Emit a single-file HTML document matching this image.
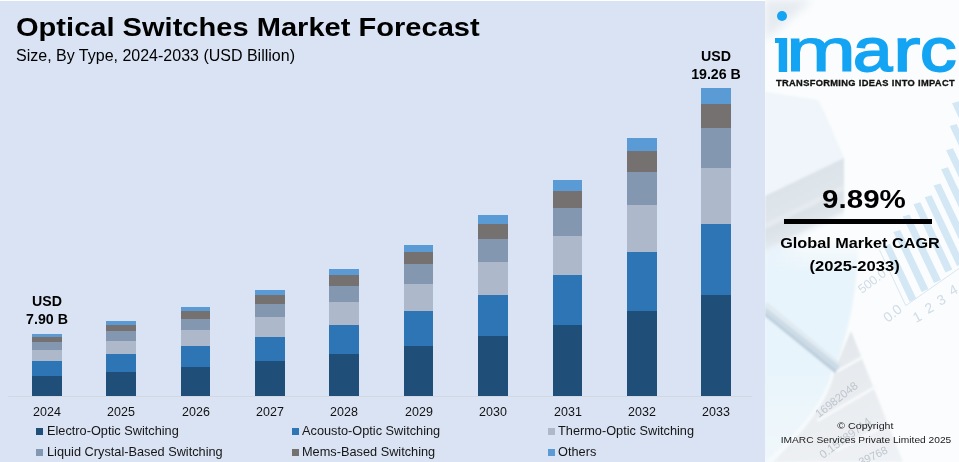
<!DOCTYPE html>
<html lang="en"><head><meta charset="utf-8"><title>Optical Switches Market Forecast</title>
<style>
html,body{margin:0;padding:0}
body{width:959px;height:462px;overflow:hidden;position:relative;background:#fff;font-family:"Liberation Sans",sans-serif;color:#000}
#left{position:absolute;left:0;top:1px;width:765px;height:461px;background:#dae3f3}
#right{position:absolute;left:765px;top:0;width:194px;height:462px;background:#f3f7fa;overflow:hidden}
.abs{position:absolute;white-space:nowrap}
.s{position:absolute}
.yr{position:absolute;top:403.5px;width:60px;text-align:center;font-size:13px;line-height:16px;color:#111;transform:scaleX(0.96)}
.lg{position:absolute;font-size:12.1px;line-height:16px;white-space:nowrap;color:#151515;transform:scaleX(1.054);transform-origin:0 0}
#logo span{position:absolute;top:0;transform-origin:0 0;display:block}
.mk{position:absolute;width:6.7px;height:6.7px}
h1{margin:0;position:absolute;left:16px;top:11px;font-size:26.5px;line-height:32px;font-weight:bold;white-space:nowrap;color:#000;transform:scaleX(1.097);transform-origin:0 0}
</style></head><body>
<div id="left"></div>
<div id="right">
<svg id="bg" width="194" height="462" viewBox="765 0 194 462" style="position:absolute;left:0;top:0">
<defs>
<filter id="b0" x="-20%" y="-20%" width="140%" height="140%"><feGaussianBlur stdDeviation="0.5"/></filter>
<filter id="b1" x="-20%" y="-20%" width="140%" height="140%"><feGaussianBlur stdDeviation="1.2"/></filter>
<filter id="b3" x="-20%" y="-20%" width="140%" height="140%"><feGaussianBlur stdDeviation="4"/></filter>
<filter id="b8" x="-30%" y="-30%" width="160%" height="160%"><feGaussianBlur stdDeviation="10"/></filter>
<linearGradient id="lt" x1="0" x2="1" y1="0" y2="0"><stop offset="0" stop-color="#e3effa"/><stop offset="1" stop-color="#e3effa" stop-opacity="0"/></linearGradient>
<linearGradient id="fade" gradientUnits="userSpaceOnUse" x1="800" y1="179" x2="824" y2="228"><stop offset="0" stop-color="#dce3e9"/><stop offset="0.42" stop-color="#dfe5eb"/><stop offset="0.5" stop-color="#e7ecf1"/><stop offset="0.58" stop-color="#dae1e7"/><stop offset="0.85" stop-color="#e1e7ed"/><stop offset="1" stop-color="#f0f5f9" stop-opacity="0"/></linearGradient>
<linearGradient id="lb" gradientUnits="userSpaceOnUse" x1="0" x2="0" y1="240" y2="462"><stop offset="0" stop-color="#e8f4fb" stop-opacity="0"/><stop offset="0.14" stop-color="#e8f4fb"/><stop offset="0.6" stop-color="#e8f4fb"/><stop offset="1" stop-color="#f1f8fc"/></linearGradient>
<linearGradient id="pg" gradientUnits="userSpaceOnUse" x1="850" x2="880" y1="331" y2="462"><stop offset="0" stop-color="#e3e6ea"/><stop offset="0.5" stop-color="#e9ecf0"/><stop offset="1" stop-color="#eff2f5"/></linearGradient>
</defs>
<rect x="765" y="0" width="194" height="462" fill="#fafcfd"/>
<polygon points="765,0 812,0 765,40" fill="#e6ebf1" filter="url(#b3)"/>
<rect x="765" y="225" width="40" height="237" fill="url(#lt)" filter="url(#b3)"/>
<!-- box -->
<g filter="url(#b1)">
<polygon points="765,92 818,100 824,112 844,158 765,197" fill="#eff5fa"/>
<polygon points="765,196 844,158 844,218 765,262" fill="url(#fade)"/>
</g>
<!-- lower-left blue area -->
<path d="M765,240 L858,240 C858,290 848,335 835,368 C828,400 805,432 775,462 L765,462Z" fill="url(#lb)" filter="url(#b1)"/>
<!-- gray paper -->
<g filter="url(#b1)">
<path d="M835,369 L851,331 L903,462 L773,462 C805,430 830,400 835,369Z" fill="url(#pg)"/><g stroke="#f7f9fb" stroke-width="3" fill="none"><path d="M836,372 L862,357.5"/><path d="M817,421 L876,386.5"/><path d="M836,451 L890,423"/></g>
<path d="M835,369 C830,400 805,430 773,462 L766,462 C800,430 826,400 832,369Z" fill="#f6fafc"/>
</g>
<!-- pen -->
<g filter="url(#b1)">
<polygon points="765,304 768,303 841,364 835,373 765,316" fill="#ccdbe6"/><polygon points="765,304 768,303 841,364 839.5,366 765,307" fill="#e0eaf1"/><polygon points="765,313 836.5,370.5 835,373 765,316" fill="#bccddb"/>
</g>
<!-- bars -->
<g fill="#d3e8f4" filter="url(#b0)">
<polygon points="883.4,246 890.2,244 916.4,298.7 909.6,301.7"/>
<polygon points="893.4,232 900.2,230 928.4,288.9 921.6,291.9"/>
<polygon points="902.7,216.4 909.5,214.4 940.9,280.1 934.1,283.1"/>
<polygon points="913.5,204.2 920.3,202.2 952.3,269.4 945.5,272.4"/>
<polygon points="924.7,197.3 931.5,195.3 963.8,263.0 957.0,266"/>
<polygon points="933.6,185.4 940.4,183.4 968.4,242.0 961.6,245"/>
<polygon points="941.1,169.3 947.9,167.3 969.3,212.0 962.5,215"/>
<polygon points="946.1,150.2 952.9,148.2 969.2,182.0 962.5,185"/>
<polygon points="949.7,126 956.5,124 967.8,147.0 961.0,150"/>
<polygon points="952.0,103.2 958.8,101.2 969.0,122.0 962.2,125"/>
</g>
<g stroke="#d9e6ef" stroke-width="1" fill="none" filter="url(#b0)"><path d="M879.5,250 L905.8,305.6 L959,268.5"/></g>
<g font-family="Liberation Sans, sans-serif" fill="#d0dce7" filter="url(#b0)">
<text x="862" y="294" font-size="12.5" transform="rotate(-37 862 294)">500.0</text>
<text x="888" y="323" font-size="14" transform="rotate(-39 888 323)">0.0</text>
<text x="916" y="323" font-size="14" transform="rotate(-28 916 323)">1</text>
<text x="928" y="314" font-size="14" transform="rotate(-28 928 314)">2</text>
<text x="940" y="306" font-size="14" transform="rotate(-28 940 306)">3</text>
<text x="952" y="296" font-size="14" transform="rotate(-28 952 296)">4</text>
</g>
<g font-family="Liberation Sans, sans-serif" fill="#bfc6ce" filter="url(#b0)">
<text x="819" y="418" font-size="11.3" transform="rotate(-38 819 418)">16982048</text>
<text x="823" y="459" font-size="11.5" transform="rotate(-36 823 459)">0.15789714</text>
<text x="861" y="466" font-size="11" transform="rotate(-26 861 466)">39768</text>
</g>
</svg>
</div>
<h1 id="title">Optical Switches Market Forecast</h1>
<div class="abs" id="sub" style="left:16px;top:47px;font-size:16px;line-height:18px">Size, By Type, 2024-2033 (USD Billion)</div>
<div id="axis" class="s" style="left:8px;top:396px;width:744px;height:1px;background:#d2d8e1"></div>
<div class="s" style="left:32px;top:334px;width:30px;height:3px;background:#5b9bd5"></div>
<div class="s" style="left:32px;top:337px;width:30px;height:5px;background:#767171"></div>
<div class="s" style="left:32px;top:342px;width:30px;height:8px;background:#8497b0"></div>
<div class="s" style="left:32px;top:350px;width:30px;height:11px;background:#adb9ca"></div>
<div class="s" style="left:32px;top:361px;width:30px;height:15px;background:#2e75b6"></div>
<div class="s" style="left:32px;top:376px;width:30px;height:20px;background:#1f4e79"></div>
<div class="s" style="left:106px;top:321px;width:30px;height:4px;background:#5b9bd5"></div>
<div class="s" style="left:106px;top:325px;width:30px;height:6px;background:#767171"></div>
<div class="s" style="left:106px;top:331px;width:30px;height:10px;background:#8497b0"></div>
<div class="s" style="left:106px;top:341px;width:30px;height:13px;background:#adb9ca"></div>
<div class="s" style="left:106px;top:354px;width:30px;height:18px;background:#2e75b6"></div>
<div class="s" style="left:106px;top:372px;width:30px;height:24px;background:#1f4e79"></div>
<div class="s" style="left:181px;top:307px;width:29px;height:4px;background:#5b9bd5"></div>
<div class="s" style="left:181px;top:311px;width:29px;height:8px;background:#767171"></div>
<div class="s" style="left:181px;top:319px;width:29px;height:11px;background:#8497b0"></div>
<div class="s" style="left:181px;top:330px;width:29px;height:16px;background:#adb9ca"></div>
<div class="s" style="left:181px;top:346px;width:29px;height:21px;background:#2e75b6"></div>
<div class="s" style="left:181px;top:367px;width:29px;height:29px;background:#1f4e79"></div>
<div class="s" style="left:255px;top:290px;width:30px;height:5px;background:#5b9bd5"></div>
<div class="s" style="left:255px;top:295px;width:30px;height:9px;background:#767171"></div>
<div class="s" style="left:255px;top:304px;width:30px;height:13px;background:#8497b0"></div>
<div class="s" style="left:255px;top:317px;width:30px;height:20px;background:#adb9ca"></div>
<div class="s" style="left:255px;top:337px;width:30px;height:24px;background:#2e75b6"></div>
<div class="s" style="left:255px;top:361px;width:30px;height:35px;background:#1f4e79"></div>
<div class="s" style="left:329px;top:269px;width:30px;height:6px;background:#5b9bd5"></div>
<div class="s" style="left:329px;top:275px;width:30px;height:11px;background:#767171"></div>
<div class="s" style="left:329px;top:286px;width:30px;height:16px;background:#8497b0"></div>
<div class="s" style="left:329px;top:302px;width:30px;height:23px;background:#adb9ca"></div>
<div class="s" style="left:329px;top:325px;width:30px;height:29px;background:#2e75b6"></div>
<div class="s" style="left:329px;top:354px;width:30px;height:42px;background:#1f4e79"></div>
<div class="s" style="left:404px;top:245px;width:29px;height:7px;background:#5b9bd5"></div>
<div class="s" style="left:404px;top:252px;width:29px;height:12px;background:#767171"></div>
<div class="s" style="left:404px;top:264px;width:29px;height:20px;background:#8497b0"></div>
<div class="s" style="left:404px;top:284px;width:29px;height:27px;background:#adb9ca"></div>
<div class="s" style="left:404px;top:311px;width:29px;height:35px;background:#2e75b6"></div>
<div class="s" style="left:404px;top:346px;width:29px;height:50px;background:#1f4e79"></div>
<div class="s" style="left:478px;top:215px;width:30px;height:9px;background:#5b9bd5"></div>
<div class="s" style="left:478px;top:224px;width:30px;height:15px;background:#767171"></div>
<div class="s" style="left:478px;top:239px;width:30px;height:23px;background:#8497b0"></div>
<div class="s" style="left:478px;top:262px;width:30px;height:33px;background:#adb9ca"></div>
<div class="s" style="left:478px;top:295px;width:30px;height:41px;background:#2e75b6"></div>
<div class="s" style="left:478px;top:336px;width:30px;height:60px;background:#1f4e79"></div>
<div class="s" style="left:553px;top:180px;width:29px;height:11px;background:#5b9bd5"></div>
<div class="s" style="left:553px;top:191px;width:29px;height:17px;background:#767171"></div>
<div class="s" style="left:553px;top:208px;width:29px;height:28px;background:#8497b0"></div>
<div class="s" style="left:553px;top:236px;width:29px;height:39px;background:#adb9ca"></div>
<div class="s" style="left:553px;top:275px;width:29px;height:50px;background:#2e75b6"></div>
<div class="s" style="left:553px;top:325px;width:29px;height:71px;background:#1f4e79"></div>
<div class="s" style="left:627px;top:138px;width:30px;height:13px;background:#5b9bd5"></div>
<div class="s" style="left:627px;top:151px;width:30px;height:21px;background:#767171"></div>
<div class="s" style="left:627px;top:172px;width:30px;height:33px;background:#8497b0"></div>
<div class="s" style="left:627px;top:205px;width:30px;height:47px;background:#adb9ca"></div>
<div class="s" style="left:627px;top:252px;width:30px;height:59px;background:#2e75b6"></div>
<div class="s" style="left:627px;top:311px;width:30px;height:85px;background:#1f4e79"></div>
<div class="s" style="left:701px;top:88px;width:30px;height:16px;background:#5b9bd5"></div>
<div class="s" style="left:701px;top:104px;width:30px;height:24px;background:#767171"></div>
<div class="s" style="left:701px;top:128px;width:30px;height:40px;background:#8497b0"></div>
<div class="s" style="left:701px;top:168px;width:30px;height:56px;background:#adb9ca"></div>
<div class="s" style="left:701px;top:224px;width:30px;height:71px;background:#2e75b6"></div>
<div class="s" style="left:701px;top:295px;width:30px;height:101px;background:#1f4e79"></div>
<div class="yr" style="left:17.0px">2024</div>
<div class="yr" style="left:91.0px">2025</div>
<div class="yr" style="left:165.5px">2026</div>
<div class="yr" style="left:240.0px">2027</div>
<div class="yr" style="left:314.0px">2028</div>
<div class="yr" style="left:388.5px">2029</div>
<div class="yr" style="left:463.0px">2030</div>
<div class="yr" style="left:537.5px">2031</div>
<div class="yr" style="left:612.0px">2032</div>
<div class="yr" style="left:686.0px">2033</div>
<div class="abs b" id="l1" style="left:17px;top:292px;width:60px;text-align:center;font-weight:bold;font-size:14.2px;line-height:18px">USD<br>7.90 B</div>
<div class="abs b" id="l2" style="left:686px;top:46.7px;width:60px;text-align:center;font-weight:bold;font-size:14.2px;line-height:18px">USD<br>19.26 B</div>

<div class="mk" style="left:36px;top:428.1px;background:#1f4e79"></div><div class="lg" id="g1" style="left:46.5px;top:423px">Electro-Optic Switching</div>
<div class="mk" style="left:292px;top:428.1px;background:#2e75b6"></div><div class="lg" id="g2" style="left:302px;top:423px">Acousto-Optic Switching</div>
<div class="mk" style="left:548px;top:428.1px;background:#adb9ca"></div><div class="lg" id="g3" style="left:557.5px;top:423px">Thermo-Optic Switching</div>
<div class="mk" style="left:36px;top:449.05px;background:#8497b0"></div><div class="lg" id="g4" style="left:46.5px;top:444px">Liquid Crystal-Based Switching</div>
<div class="mk" style="left:292px;top:449.05px;background:#767171"></div><div class="lg" id="g5" style="left:302px;top:444px">Mems-Based Switching</div>
<div class="mk" style="left:548px;top:449.05px;background:#5b9bd5"></div><div class="lg" id="g6" style="left:557.5px;top:444px">Others</div>

<div class="s" id="flag" style="left:774.5px;top:38px;width:5px;height:5px;background:#13a4f3"></div>
<div class="s" id="dot" style="left:777px;top:11px;width:10px;height:10px;border-radius:50%;background:#13a4f3"></div>
<div class="abs" id="logo" style="left:765px;top:10px;width:194px;height:80px;font-size:62px;line-height:80px;color:#13a4f3;-webkit-text-stroke:1.8px #13a4f3;clip-path:inset(25px 0 0 0)"><span style="left:9.5px;transform:scaleX(1.157);-webkit-text-stroke-width:1.8px">i</span><span style="left:21.23px;transform:scaleX(1.3556);-webkit-text-stroke-width:1.2px">m</span><span style="left:88.40px;transform:scaleX(1.142);-webkit-text-stroke-width:1.8px">a</span><span style="left:128.3px;transform:scaleX(1.33);-webkit-text-stroke-width:1.4px">r</span><span style="left:154.85px;transform:scaleX(1.175);-webkit-text-stroke-width:1.8px">c</span></div>
<div class="abs" id="tag" style="left:776px;top:76.6px;font-size:9.3px;letter-spacing:0.33px;line-height:12px;transform:scaleY(1.04);transform-origin:0 9.2px;-webkit-text-stroke:0.3px #111;font-weight:bold;color:#111">TRANSFORMING IDEAS INTO IMPACT</div>
<div class="abs" id="cagr" style="left:765px;width:194px;text-align:center;top:184px;font-size:26px;line-height:30px;font-weight:bold;transform:translateX(2px) scaleX(1.136)">9.89%</div>
<div class="s" id="rule" style="left:783.5px;top:219.2px;width:148px;height:4.5px;background:#000"></div>
<div class="abs" id="gm" style="left:765px;width:194px;text-align:center;top:233px;font-size:15px;line-height:20px;font-weight:bold;transform:translateX(-2px) scaleX(1.082)">Global Market CAGR</div>
<div class="abs" id="gy" style="left:765px;width:194px;text-align:center;top:256px;font-size:14.4px;line-height:20px;font-weight:bold;transform:translateX(-7.4px) scaleX(1.15)">(2025-2033)</div>
<div class="abs" id="c1" style="left:765px;width:194px;text-align:center;top:420px;font-size:9.5px;line-height:12px;color:#1a1a1a;transform:translateX(3.4px) scaleX(1.116)">© Copyright</div>
<div class="abs" id="c2" style="left:765px;width:194px;text-align:center;top:433.6px;font-size:9.5px;line-height:12px;color:#1a1a1a;transform:translateX(4px) scaleX(1.073)">IMARC Services Private Limited 2025</div>
</body></html>
